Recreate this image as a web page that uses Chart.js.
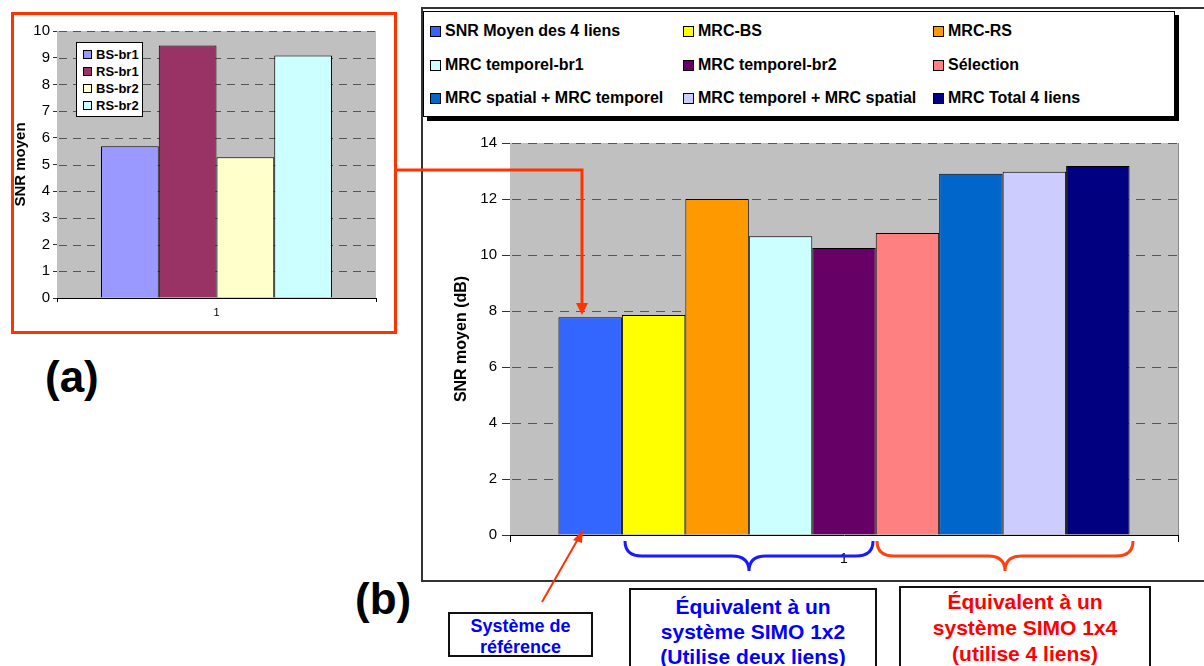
<!DOCTYPE html>
<html lang="fr">
<head>
<meta charset="UTF-8">
<script src="https://cdn.jsdelivr.net/npm/chart.js"></script>
<title>SNR moyen</title>
<style>
  body { margin: 0; width: 1204px; height: 666px; overflow: hidden; background: #fff; position: relative;
         font-family: "Liberation Sans", Arial, sans-serif; }
  .abs { position: absolute; }
  .frameA { left: 11px; top: 12px; width: 386px; height: 322px; border: 3px solid #ff3300; box-sizing: border-box; }
  .frameB { left: 421px; top: 7px; width: 820px; height: 575px; border: 2px solid #333; box-sizing: border-box; }
  .tag { font-weight: bold; font-size: 44px; color: #000; }
  .legB { left: 423px; top: 11px; width: 752px; height: 106px; border: 1px solid #000; background: #fff;
          box-shadow: 4px 4px 0 #000; box-sizing: border-box; }
  .legA { left: 76px; top: 42px; width: 67px; height: 75px; border: 1px solid #000; background: #fff; box-sizing: border-box; }
  .item { position: absolute; display: flex; align-items: center; font-weight: bold; white-space: nowrap; color: #000; }
  .sw { border: 1px solid #000; box-sizing: border-box; display: inline-block; }
  .note { position: absolute; border: 2px solid #111; box-sizing: border-box; text-align: center; font-weight: bold; background: #fff; }
  canvas { position: absolute; }
</style>
</head>
<body>
<div class="abs frameB"></div>
<div class="abs frameA"></div>

<canvas id="chartA" width="383" height="317" style="left:12px;top:15px"></canvas>
<canvas id="chartB" width="760" height="450" style="left:430px;top:128px"></canvas>

<div class="abs legA" id="legendA"></div>
<div class="abs legB" id="legendB"></div>

<div class="abs tag" style="left:45px;top:352px">(a)</div>
<div class="abs tag" style="left:355px;top:574px">(b)</div>

<div class="note" style="left:448px;top:612px;width:145px;height:45px;color:#0000ff;font-size:18px;line-height:21px;padding-top:2px">Système de<br>référence</div>
<div class="note" style="left:629px;top:588px;width:248px;height:100px;color:#0000ff;font-size:21px;line-height:25px;padding-top:4px">Équivalent à un<br>système SIMO 1x2<br>(Utilise deux liens)</div>
<div class="note" style="left:899px;top:586px;width:252px;height:100px;color:#ff0000;font-size:21px;line-height:26px;padding-top:1px">Équivalent à un<br>système SIMO 1x4<br>(utilise 4 liens)</div>

<svg class="abs" style="left:0;top:0" width="1204" height="666">
  <!-- arrow from (a) to reference bar -->
  <polyline points="397,170 582,170 582,305" fill="none" stroke="#ff3300" stroke-width="3"/>
  <polygon points="576,303 588,303 582,315" fill="#ff3300"/>
  <!-- arrow from "Système de référence" -->
  <line x1="542" y1="602" x2="578" y2="539" stroke="#ff3300" stroke-width="2"/>
  <polygon points="583,530 573,540 582,543" fill="#ff3300"/>
  <!-- braces -->
  <path d="M625,541 Q625,556 642,556 L732,556 Q749,556 749,571 Q749,556 766,556 L856,556 Q873,556 873,541"
        fill="none" stroke="#1a1aff" stroke-width="3"/>
  <path d="M877,541 Q877,556 894,556 L988,556 Q1005,556 1005,571 Q1005,556 1022,556 L1116,556 Q1133,556 1133,541"
        fill="none" stroke="#ff4010" stroke-width="3"/>
</svg>

<script>
  // chart (a)
  const categoriesA = ['1'];
  const seriesA = ['BS-br1', 'RS-br1', 'BS-br2', 'RS-br2'];
  const valuesA = [5.68, 9.46, 5.27, 9.08];
  const colorsA = ['#9999ff', '#993366', '#ffffcc', '#ccffff'];
  const ticksA = [0, 1, 2, 3, 4, 5, 6, 7, 8, 9, 10];

  // chart (b)
  const categoriesB = ['1'];
  const seriesB = ['SNR Moyen des 4 liens', 'MRC-BS', 'MRC-RS',
                   'MRC temporel-br1', 'MRC temporel-br2', 'Sélection',
                   'MRC spatial + MRC temporel', 'MRC temporel + MRC spatial', 'MRC Total 4 liens'];
  const valuesB = [7.78, 7.86, 12.0, 10.67, 10.25, 10.79, 12.9, 12.97, 13.18];
  const colorsB = ['#3366ff', '#ffff00', '#ff9900', '#ccffff', '#660066', '#ff8080', '#0066cc', '#ccccff', '#000080'];
  const ticksB = [0, 2, 4, 6, 8, 10, 12, 14];

  const FONT = '"Liberation Sans", Arial, sans-serif';
  Chart.defaults.font.family = FONT;
  Chart.defaults.color = '#000';

  // grey plot area + dashed horizontal grid (drawn before the bars)
  const plotBackground = {
    id: 'plotBackground',
    beforeDatasetsDraw(chart, args, opts) {
      const { ctx, chartArea: a, scales: { y } } = chart;
      const on = opts.dashOn, off = opts.dashOff;
      ctx.save();
      ctx.fillStyle = '#c0c0c0';
      ctx.fillRect(a.left, a.top, a.width, a.height);
      ctx.fillStyle = '#555555';
      y.ticks.forEach(t => {
        if (t.value === 0) return;
        const py = Math.round(y.getPixelForValue(t.value));
        // dashes as small filled segments
        for (let x = a.left + 2; x < a.right; x += on + off) {
          ctx.fillRect(x, py, Math.min(on, a.right - x), 1);
        }
      });
      if (opts.edge) {
        ctx.fillStyle = '#8a8a8a';
        ctx.fillRect(Math.round(a.right), a.top, 1, a.height);
      }
      ctx.restore();
    }
  };

  function makeChart(id, cats, names, values, colors, ticks, o) {
    return new Chart(document.getElementById(id), {
      type: 'bar',
      data: {
        labels: cats,
        datasets: names.map((n, i) => ({
          label: n,
          data: [values[i]],
          backgroundColor: colors[i],
          borderColor: '#000',
          borderWidth: 1,
          categoryPercentage: o.catPct,
          barPercentage: 1
        }))
      },
      options: {
        responsive: false,
        animation: false,
        layout: { padding: o.padding },
        plugins: {
          legend: { display: false },
          tooltip: { enabled: false },
          plotBackground: { edge: o.edge, dashOn: o.dashOn, dashOff: o.dashOff }
        },
        scales: {
          x: {
            grid: { drawOnChartArea: false, drawTicks: true, tickLength: o.xTick, color: '#000' },
            border: { display: true, color: '#000', width: 1 },
            ticks: { font: { size: o.xFont }, padding: o.xPad, color: '#000' },
            afterFit: s => { s.height = o.xHeight; }
          },
          y: {
            min: 0,
            max: ticks[ticks.length - 1],
            afterBuildTicks: s => { s.ticks = ticks.map(v => ({ value: v })); },
            grid: { drawOnChartArea: false, color: '#333', tickColor: '#333', tickLength: o.yTick },
            border: { display: true, color: '#000', width: 1 },
            ticks: { font: { size: o.yFont }, padding: o.yPad, color: '#000' },
            title: { display: true, text: o.title, font: { size: o.titleFont, weight: 'bold' },
                     padding: { top: o.titlePad, bottom: 0 }, color: '#000' },
            afterFit: s => { s.width = o.yWidth; }
          }
        }
      },
      plugins: [plotBackground]
    });
  }

  makeChart('chartA', categoriesA, seriesA, valuesA, colorsA, ticksA, {
    catPct: 0.724, padding: { left: 0, top: 16, right: 19, bottom: 0 },
    xTick: 4, xFont: 11, xPad: 4, xHeight: 34,
    yTick: 4, yFont: 15, yPad: 3, yWidth: 45, dashOn: 8, dashOff: 6,
    title: 'SNR moyen', titleFont: 15, titlePad: 0, edge: false
  });

  makeChart('chartB', categoriesB, seriesB, valuesB, colorsB, ticksB, {
    catPct: 0.855, padding: { left: 0, top: 15, right: 12, bottom: 0 },
    xTick: 7, xFont: 14, xPad: 9, xHeight: 43,
    yTick: 8, yFont: 15, yPad: 5, yWidth: 80, dashOn: 9, dashOff: 7,
    title: 'SNR moyen (dB)', titleFont: 16, titlePad: 22, edge: true
  });

  // HTML legends built from the same arrays
  function buildLegend(el, names, colors, o) {
    names.forEach((n, i) => {
      const col = Math.floor(i % o.cols), row = Math.floor(i / o.cols);
      const item = document.createElement('div');
      item.className = 'item';
      item.style.left = o.colX[col] + 'px';
      item.style.top = (o.rowY[row] - o.h / 2) + 'px';
      item.style.height = o.h + 'px';
      item.style.fontSize = o.font + 'px';
      const sw = document.createElement('span');
      sw.className = 'sw';
      sw.style.width = sw.style.height = o.sw + 'px';
      sw.style.background = colors[i];
      sw.style.marginRight = o.gap + 'px';
      item.appendChild(sw);
      item.appendChild(document.createTextNode(n));
      el.appendChild(item);
    });
  }

  buildLegend(document.getElementById('legendA'), seriesA, colorsA,
    { cols: 1, colX: [6], rowY: [11, 28, 45, 62], h: 16, font: 13, sw: 9, gap: 4 });
  buildLegend(document.getElementById('legendB'), seriesB, colorsB,
    { cols: 3, colX: [6, 259, 509], rowY: [19, 53, 86], h: 20, font: 16, sw: 11, gap: 4 });
</script>
</body>
</html>
